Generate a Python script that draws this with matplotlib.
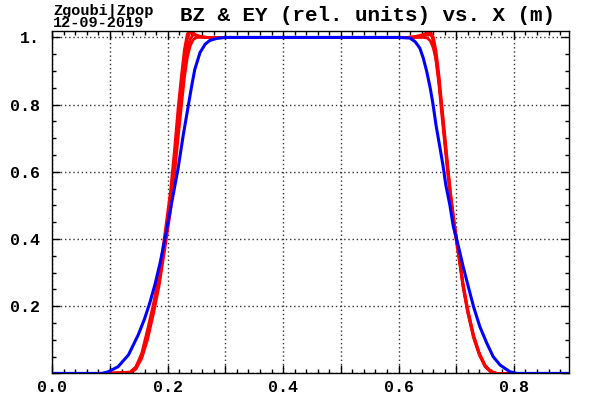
import numpy as np
import matplotlib
matplotlib.use('Agg')
import matplotlib.pyplot as plt
from matplotlib.ticker import MultipleLocator, FuncFormatter

# Blue curve (single)
blue_x = [0.0, 0.086, 0.097, 0.114, 0.132, 0.149, 0.160, 0.169, 0.178, 0.187, 0.194, 0.200,
          0.206, 0.212, 0.218, 0.227, 0.236, 0.242, 0.247, 0.256, 0.265, 0.273, 0.285, 0.300,
          0.450, 0.600, 0.620, 0.629, 0.637, 0.643, 0.649, 0.655, 0.660, 0.665, 0.671, 0.677,
          0.682, 0.689, 0.695, 0.704, 0.712, 0.721, 0.730, 0.741, 0.753, 0.764, 0.776, 0.793,
          0.805, 0.896]
blue_y = [0.0, 0.0, 0.005, 0.02, 0.055, 0.115, 0.163, 0.21, 0.265, 0.33, 0.39, 0.445,
          0.5, 0.555, 0.61, 0.71, 0.8, 0.86, 0.905, 0.955, 0.98, 0.991, 0.997, 1.0,
          1.0, 1.0, 0.998, 0.987, 0.968, 0.938, 0.898, 0.849, 0.799, 0.739, 0.680, 0.620,
          0.561, 0.501, 0.437, 0.377, 0.318, 0.258, 0.199, 0.139, 0.090, 0.050, 0.025, 0.005,
          0.0, 0.0]

# Red curves (bundle of tracks) on a shared x grid
red_x = [0.095, 0.135, 0.145, 0.155, 0.165, 0.175, 0.185, 0.195, 0.205, 0.212, 0.218, 0.224,
         0.229, 0.234, 0.239, 0.244, 0.250, 0.258, 0.268, 0.285,
         0.40, 0.50, 0.60,
         0.615, 0.625, 0.635, 0.643, 0.650, 0.655, 0.660, 0.665, 0.670, 0.675, 0.680, 0.685,
         0.690, 0.697, 0.705, 0.712, 0.720, 0.730, 0.740, 0.750, 0.760, 0.770, 0.810]
red_y_a = [0.0, 0.003, 0.018, 0.055, 0.12, 0.195, 0.28, 0.40, 0.525, 0.645, 0.76, 0.86,
           0.94, 0.995, 1.018, 1.012, 1.005, 1.002, 1.0, 1.0,
           1.0, 1.0, 1.0,
           1.0, 1.001, 1.003, 1.007, 1.012, 1.016, 1.0, 0.945, 0.875, 0.785, 0.695, 0.61,
           0.53, 0.435, 0.345, 0.26, 0.185, 0.11, 0.058, 0.022, 0.005, 0.0, 0.0]
red_y_b = [0.0, 0.002, 0.015, 0.05, 0.11, 0.185, 0.27, 0.385, 0.505, 0.62, 0.73, 0.83,
           0.91, 0.965, 0.995, 1.008, 1.006, 1.002, 1.0, 1.0,
           1.0, 1.0, 1.0,
           1.0, 1.0, 1.002, 1.004, 1.007, 1.008, 1.002, 0.96, 0.89, 0.80, 0.715, 0.625,
           0.54, 0.445, 0.352, 0.266, 0.19, 0.114, 0.06, 0.024, 0.006, 0.0, 0.0]
red_y_c = [0.0, 0.002, 0.013, 0.045, 0.10, 0.175, 0.26, 0.37, 0.485, 0.595, 0.70, 0.80,
           0.88, 0.94, 0.975, 0.993, 1.0, 1.0, 1.0, 1.0,
           1.0, 1.0, 1.0,
           1.0, 1.0, 1.0, 1.0, 0.998, 0.99, 0.97, 0.935, 0.87, 0.79, 0.70, 0.615,
           0.535, 0.44, 0.348, 0.262, 0.187, 0.112, 0.059, 0.023, 0.006, 0.0, 0.0]
red_y_d = [0.0, 0.004, 0.02, 0.06, 0.13, 0.205, 0.29, 0.415, 0.545, 0.67, 0.79, 0.89,
           0.965, 1.01, 1.022, 1.014, 1.006, 1.002, 1.0, 1.0,
           1.0, 1.0, 1.0,
           1.0, 1.002, 1.005, 1.009, 1.014, 1.02, 0.99, 0.93, 0.86, 0.77, 0.685, 0.60,
           0.52, 0.428, 0.34, 0.255, 0.18, 0.106, 0.055, 0.02, 0.004, 0.0, 0.0]
red_tracks = [red_y_c, red_y_b, red_y_a, red_y_d]

W, H = 592, 398
fig = plt.figure(figsize=(W / 100, H / 100), dpi=100)
ax = fig.add_axes([52.3 / W, (H - 373.4) / H, (569.3 - 52.3) / W, (373.4 - 30.7) / H])

for ry in red_tracks:
    ax.plot(red_x, ry, color='#ff0000', lw=2.0)
ax.plot(blue_x, blue_y, color='#0000ff', lw=2.2)

ax.set_xlim(0, 0.896)
ax.set_ylim(0, 1.02)

mono = {'family': 'Liberation Mono', 'weight': 'bold'}

ax.xaxis.set_major_locator(MultipleLocator(0.1))
ax.xaxis.set_minor_locator(MultipleLocator(0.02))
ax.yaxis.set_major_locator(MultipleLocator(0.2))
ax.yaxis.set_minor_locator(MultipleLocator(0.05))


def xfmt(v, pos):
    k = int(round(v * 10))
    if k % 2:
        return ''
    return '%.1f' % v


def yfmt(v, pos):
    if abs(v) < 1e-9:
        return ''
    if abs(v - 1) < 1e-9:
        return '1.'
    return '%.1f' % v


ax.xaxis.set_major_formatter(FuncFormatter(xfmt))
ax.yaxis.set_major_formatter(FuncFormatter(yfmt))
ax.tick_params(which='both', direction='in', top=True, right=True, color='black')
ax.tick_params(which='major', length=6, width=1)
ax.tick_params(which='minor', length=3, width=1)
ax.tick_params(axis='y', which='major', pad=9)
ax.tick_params(axis='x', which='major', pad=5)
for lab in ax.get_xticklabels() + ax.get_yticklabels():
    lab.set_fontfamily('Liberation Mono')
    lab.set_fontweight('bold')
    lab.set_fontsize(12)

ax.grid(True, which='major', linestyle=(0, (1, 2)), color='#333333', lw=1)
for s in ax.spines.values():
    s.set_linewidth(1)

fig.text(53 / W, 1 - 14.5 / H, 'Zgoubi|Zpop', fontsize=11, va='baseline', ha='left', **mono)
fig.text(53 / W, 1 - 27 / H, '12-09-2019', fontsize=11, va='baseline', ha='left', **mono)
fig.text(180 / W, 1 - 21 / H, 'BZ & EY (rel. units) vs. X (m)', fontsize=15, va='baseline',
         ha='left', **mono)

fig.savefig('out.png', dpi=100)
